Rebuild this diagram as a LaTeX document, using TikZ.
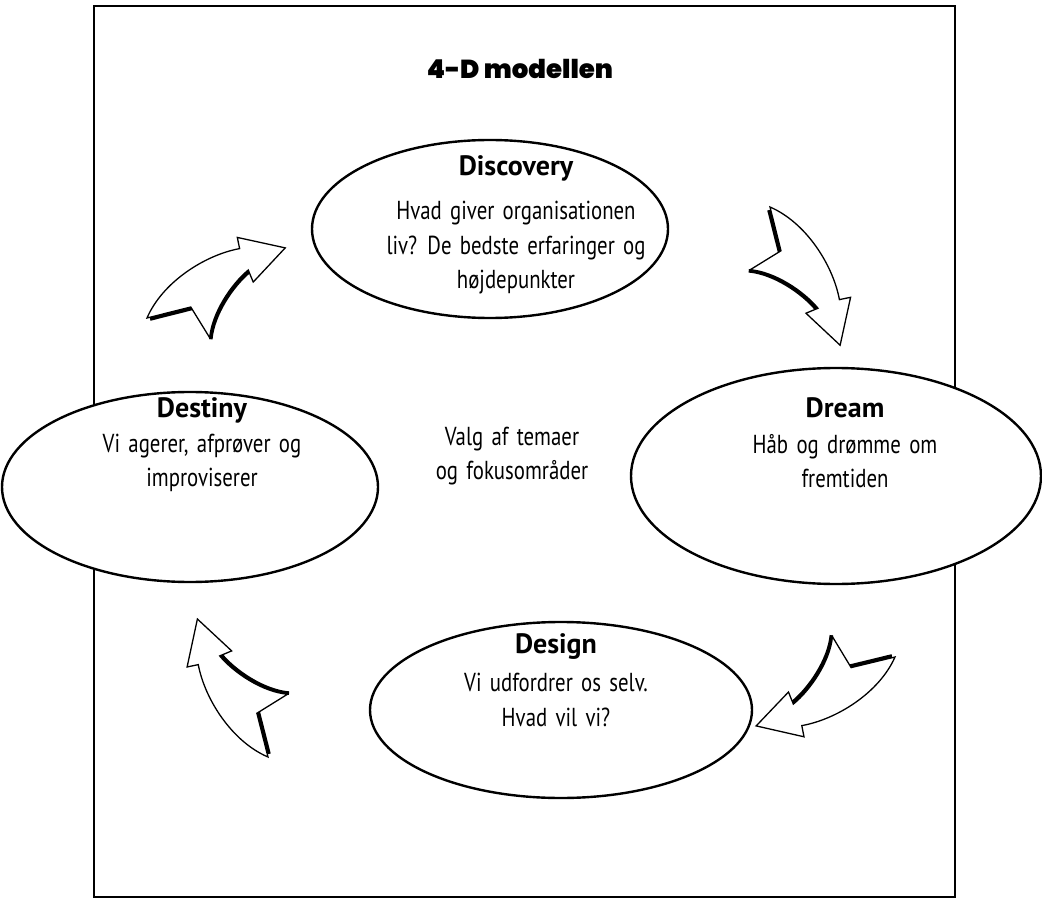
\documentclass[tikz,border=0pt]{standalone}
\usepackage{fontspec}
\setmainfont{PT Sans}[FakeStretch=0.8, WordSpace=1.5]
\newfontfamily\phasefont{PT Sans}
\newfontfamily\headfont{Poppins}[UprightFont=* Black]
\usepackage{tikz}
\usetikzlibrary{shapes.geometric}

\tikzset{
  cyclearrow/.pic={
    % shadow on the inner side
    \begin{scope}[shift={(0.3,-1.8)}]
      \draw[line width=3.6pt, line join=round] (2,-0.5) -- (44,-10)
        (47,-46) .. controls (60,-25) and (90,-8) .. (112,-3);
    \end{scope}
    \filldraw[fill=white, line width=1.3pt, line join=miter]
      (0,0) .. controls (30,25) and (80,30) .. (114,20) -- (117,31) -- (155,0)
      -- (111,-16) -- (112,-3) .. controls (90,-8) and (60,-25) .. (47,-46)
      -- (44,-10) -- cycle;
  }
}

\begin{document}
\begin{tikzpicture}[x=1pt, y=1pt, node distance=53pt,
  phase/.style={draw, ellipse, line width=2.4pt, fill=white, inner sep=0pt},
  head/.style={font={\phasefont\fontsize{28}{34}\selectfont\bfseries}},
  body/.style={align=center, font={\fontsize{26}{34.5}\selectfont}},
  title/.style={font={\headfont\fontsize{26}{30}\selectfont}}]
            \useasboundingbox (0,0) rectangle (1042,-904);
            \draw[line width=2.4pt] (94,-6) rectangle (955,-897);

            \node[title] (title) at (520,-69) {4-D modellen};

            \node[phase, minimum width=356pt, minimum height=178pt] (disc) at (490,-229) {};
            \node[phase, minimum width=410pt, minimum height=216pt] (dream) at (836,-476) {};
            \node[phase, minimum width=382pt, minimum height=176pt] (design) at (561,-710) {};
            \node[phase, minimum width=376pt, minimum height=190pt] (destiny) at (190,-487) {};

            \node[head] (t1) at (516,-168) {Discovery};
            \node[body] (b1) [below of=t1, yshift=-27pt] {Hvad giver organisationen\\ liv? De bedste erfaringer og\\ højdepunkter};
            \node[head] (t2) at (845,-408) {Dream};
            \node[body] (b2) [below of=t2] {Håb og drømme om\\ fremtiden};
            \node[head] (t3) at (556,-647) {Design};
            \node[body] (b3) [below of=t3] {Vi udfordrer os selv.\\ Hvad vil vi?};
            \node[head] (t4) at (202,-410) {Destiny};
            \node[body] (b4) [below of=t4] {Vi agerer, afprøver og\\ improviserer};

            \node[body] (core) at (512,-456) {Valg af temaer\\ og fokusområder};

            \pic[rotate=26.9] (a1) at (147,-318) {cyclearrow};
            \pic[rotate=-63.1] (a2) at (770,-207) {cyclearrow};
            \pic[rotate=206.4] (a3) at (895,-657) {cyclearrow};
            \pic[rotate=117.1] (a4) at (268,-757) {cyclearrow};
          \end{tikzpicture}
\end{document}
